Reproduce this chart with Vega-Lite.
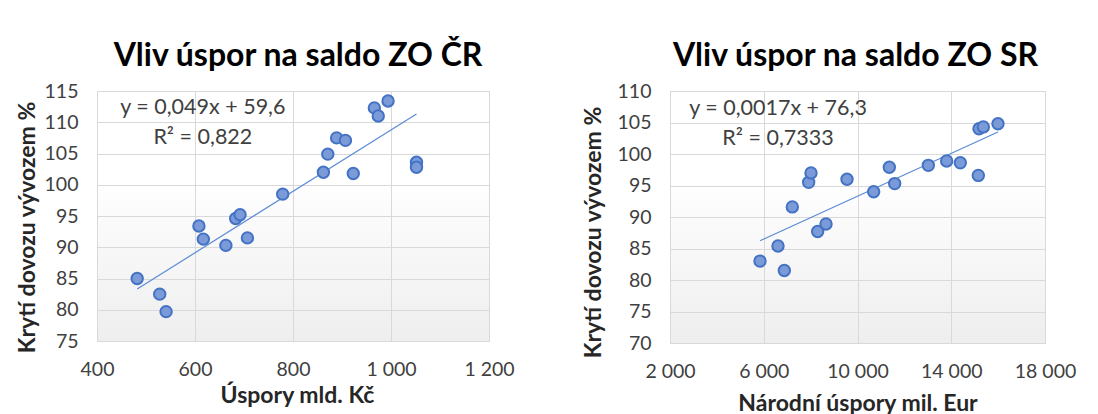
{
  "$schema": "https://vega.github.io/schema/vega-lite/v6.json",
  "padding": {"left": 15, "top": 39, "right": 5, "bottom": 0},
  "background": "white",
  "config": {
    "font": "Lato",
    "view": {"stroke": "#D9D9D9", "fill": {"gradient": "linear", "x1": 0, "y1": 0, "x2": 0, "y2": 1, "stops": [{"offset": 0, "color": "#FFFFFF"}, {"offset": 0.35, "color": "#FFFFFF"}, {"offset": 1, "color": "#EEEEEE"}]}},
    "axis": {"grid": true, "gridColor": "#D9D9D9", "domain": false, "ticks": false, "labelFlush": false, "labelOverlap": false, "labelFontSize": 19.5, "labelColor": "#404040", "titleFontSize": 23, "titleFontWeight": "bold", "titleColor": "#262626"},
    "title": {"fontSize": 32, "fontWeight": "bold", "color": "#000000", "offset": 8, "frame": "group"},
    "text": {"fontSize": 21.5, "color": "#404040", "baseline": "middle", "align": "center"},
    "concat": {"spacing": 66}
  },
  "hconcat": [
    {
      "title": {"text": "Vliv úspor na saldo ZO ČR", "dx": 5},
      "width": 392,
      "height": 250,
      "layer": [
        {"data": {"name": "cr"},
         "mark": {"type": "line", "color": "#5B8BD5", "strokeWidth": 1.2},
         "transform": [{"regression": "kryti", "on": "uspory"}],
         "encoding": {
           "x": {"field": "uspory", "type": "quantitative", "title": "Úspory mld. Kč",
             "scale": {"domain": [400, 1200], "nice": false},
             "axis": {"values": [400, 600, 800, 1000, 1200], "labelPadding": 19, "titlePadding": 6, "titleX": 200, "labelExpr": "replace(format(datum.value, ','), ',', ' ')"}},
           "y": {"field": "kryti", "type": "quantitative", "title": "Krytí dovozu vývozem %",
             "scale": {"domain": [75, 115], "nice": false, "zero": false},
             "axis": {"values": [75, 80, 85, 90, 95, 100, 105, 110, 115], "labelPadding": 19, "titlePadding": 5, "titleY": 136}}}},
        {"data": {"name": "cr"},
         "mark": {"type": "point", "shape": "circle", "filled": true, "fill": "#7B9BD8", "stroke": "#4472C4", "strokeWidth": 2, "size": 130, "opacity": 1},
         "encoding": {
           "x": {"field": "uspory", "type": "quantitative", "title": "Úspory mld. Kč",
             "scale": {"domain": [400, 1200], "nice": false},
             "axis": {"values": [400, 600, 800, 1000, 1200], "labelPadding": 19, "titlePadding": 6, "titleX": 200, "labelExpr": "replace(format(datum.value, ','), ',', ' ')"}},
           "y": {"field": "kryti", "type": "quantitative", "title": "Krytí dovozu vývozem %",
             "scale": {"domain": [75, 115], "nice": false, "zero": false},
             "axis": {"values": [75, 80, 85, 90, 95, 100, 105, 110, 115], "labelPadding": 19, "titlePadding": 5, "titleY": 136}}}},
        {"data": {"values": [{"label": "y = 0,049x + 59,6"}]},
         "mark": {"type": "text"},
         "encoding": {
           "x": {"datum": 616, "type": "quantitative", "title": "Úspory mld. Kč",
             "scale": {"domain": [400, 1200], "nice": false},
             "axis": {"values": [400, 600, 800, 1000, 1200], "labelPadding": 19, "titlePadding": 6, "titleX": 200, "labelExpr": "replace(format(datum.value, ','), ',', ' ')"}},
           "y": {"datum": 112.3, "type": "quantitative", "title": "Krytí dovozu vývozem %",
             "scale": {"domain": [75, 115], "nice": false, "zero": false},
             "axis": {"values": [75, 80, 85, 90, 95, 100, 105, 110, 115], "labelPadding": 19, "titlePadding": 5, "titleY": 136}},
           "text": {"field": "label", "type": "nominal"}}},
        {"data": {"values": [{"label": "R² = 0,822"}]},
         "mark": {"type": "text"},
         "encoding": {
           "x": {"datum": 616, "type": "quantitative", "title": "Úspory mld. Kč",
             "scale": {"domain": [400, 1200], "nice": false},
             "axis": {"values": [400, 600, 800, 1000, 1200], "labelPadding": 19, "titlePadding": 6, "titleX": 200, "labelExpr": "replace(format(datum.value, ','), ',', ' ')"}},
           "y": {"datum": 107.5, "type": "quantitative", "title": "Krytí dovozu vývozem %",
             "scale": {"domain": [75, 115], "nice": false, "zero": false},
             "axis": {"values": [75, 80, 85, 90, 95, 100, 105, 110, 115], "labelPadding": 19, "titlePadding": 5, "titleY": 136}},
           "text": {"field": "label", "type": "nominal"}}}
      ]
    },
    {
      "title": {"text": "Vliv úspor na saldo ZO SR", "dx": -2},
      "width": 375,
      "height": 252,
      "layer": [
        {"data": {"name": "sr"},
         "mark": {"type": "line", "color": "#5B8BD5", "strokeWidth": 1.2},
         "transform": [{"regression": "kryti", "on": "uspory"}],
         "encoding": {
           "x": {"field": "uspory", "type": "quantitative", "title": "Národní úspory mil. Eur",
             "scale": {"domain": [2000, 18000], "nice": false},
             "axis": {"values": [2000, 6000, 10000, 14000, 18000], "labelPadding": 19, "titlePadding": 12, "labelExpr": "replace(format(datum.value, ','), ',', ' ')"}},
           "y": {"field": "kryti", "type": "quantitative", "title": "Krytí dovozu vývozem %",
             "scale": {"domain": [70, 110], "nice": false, "zero": false},
             "axis": {"values": [70, 75, 80, 85, 90, 95, 100, 105, 110], "labelPadding": 19, "titlePadding": 12, "titleY": 141}}}},
        {"data": {"name": "sr"},
         "mark": {"type": "point", "shape": "circle", "filled": true, "fill": "#7B9BD8", "stroke": "#4472C4", "strokeWidth": 2, "size": 130, "opacity": 1},
         "encoding": {
           "x": {"field": "uspory", "type": "quantitative", "title": "Národní úspory mil. Eur",
             "scale": {"domain": [2000, 18000], "nice": false},
             "axis": {"values": [2000, 6000, 10000, 14000, 18000], "labelPadding": 19, "titlePadding": 12, "labelExpr": "replace(format(datum.value, ','), ',', ' ')"}},
           "y": {"field": "kryti", "type": "quantitative", "title": "Krytí dovozu vývozem %",
             "scale": {"domain": [70, 110], "nice": false, "zero": false},
             "axis": {"values": [70, 75, 80, 85, 90, 95, 100, 105, 110], "labelPadding": 19, "titlePadding": 12, "titleY": 141}}}},
        {"data": {"values": [{"label": "y = 0,0017x + 76,3"}]},
         "mark": {"type": "text"},
         "encoding": {
           "x": {"datum": 6608, "type": "quantitative", "title": "Národní úspory mil. Eur",
             "scale": {"domain": [2000, 18000], "nice": false},
             "axis": {"values": [2000, 6000, 10000, 14000, 18000], "labelPadding": 19, "titlePadding": 12, "labelExpr": "replace(format(datum.value, ','), ',', ' ')"}},
           "y": {"datum": 107.1, "type": "quantitative", "title": "Krytí dovozu vývozem %",
             "scale": {"domain": [70, 110], "nice": false, "zero": false},
             "axis": {"values": [70, 75, 80, 85, 90, 95, 100, 105, 110], "labelPadding": 19, "titlePadding": 12, "titleY": 141}},
           "text": {"field": "label", "type": "nominal"}}},
        {"data": {"values": [{"label": "R² = 0,7333"}]},
         "mark": {"type": "text"},
         "encoding": {
           "x": {"datum": 6608, "type": "quantitative", "title": "Národní úspory mil. Eur",
             "scale": {"domain": [2000, 18000], "nice": false},
             "axis": {"values": [2000, 6000, 10000, 14000, 18000], "labelPadding": 19, "titlePadding": 12, "labelExpr": "replace(format(datum.value, ','), ',', ' ')"}},
           "y": {"datum": 102.4, "type": "quantitative", "title": "Krytí dovozu vývozem %",
             "scale": {"domain": [70, 110], "nice": false, "zero": false},
             "axis": {"values": [70, 75, 80, 85, 90, 95, 100, 105, 110], "labelPadding": 19, "titlePadding": 12, "titleY": 141}},
           "text": {"field": "label", "type": "nominal"}}}
      ]
    }
  ],
  "datasets": {
    "cr": [
      {"uspory": 482, "kryti": 85.0},
      {"uspory": 528, "kryti": 82.5},
      {"uspory": 541, "kryti": 79.7},
      {"uspory": 608, "kryti": 93.4},
      {"uspory": 617, "kryti": 91.3},
      {"uspory": 663, "kryti": 90.3},
      {"uspory": 683, "kryti": 94.6},
      {"uspory": 692, "kryti": 95.2},
      {"uspory": 707, "kryti": 91.5},
      {"uspory": 779, "kryti": 98.5},
      {"uspory": 862, "kryti": 102.0},
      {"uspory": 871, "kryti": 104.9},
      {"uspory": 889, "kryti": 107.5},
      {"uspory": 907, "kryti": 107.1},
      {"uspory": 923, "kryti": 101.8},
      {"uspory": 966, "kryti": 112.3},
      {"uspory": 974, "kryti": 111.0},
      {"uspory": 994, "kryti": 113.4},
      {"uspory": 1052, "kryti": 103.6},
      {"uspory": 1052, "kryti": 102.8}
    ],
    "sr": [
      {"uspory": 5840, "kryti": 83.0},
      {"uspory": 6608, "kryti": 85.4},
      {"uspory": 6878, "kryti": 81.5},
      {"uspory": 7219, "kryti": 91.6},
      {"uspory": 7916, "kryti": 95.5},
      {"uspory": 8016, "kryti": 97.0},
      {"uspory": 8300, "kryti": 87.7},
      {"uspory": 8656, "kryti": 88.9},
      {"uspory": 9552, "kryti": 96.0},
      {"uspory": 10690, "kryti": 94.0},
      {"uspory": 11358, "kryti": 97.9},
      {"uspory": 11586, "kryti": 95.3},
      {"uspory": 13022, "kryti": 98.2},
      {"uspory": 13804, "kryti": 98.9},
      {"uspory": 14387, "kryti": 98.6},
      {"uspory": 15155, "kryti": 96.6},
      {"uspory": 15184, "kryti": 104.0},
      {"uspory": 15369, "kryti": 104.3},
      {"uspory": 15994, "kryti": 104.8}
    ]
  }
}
